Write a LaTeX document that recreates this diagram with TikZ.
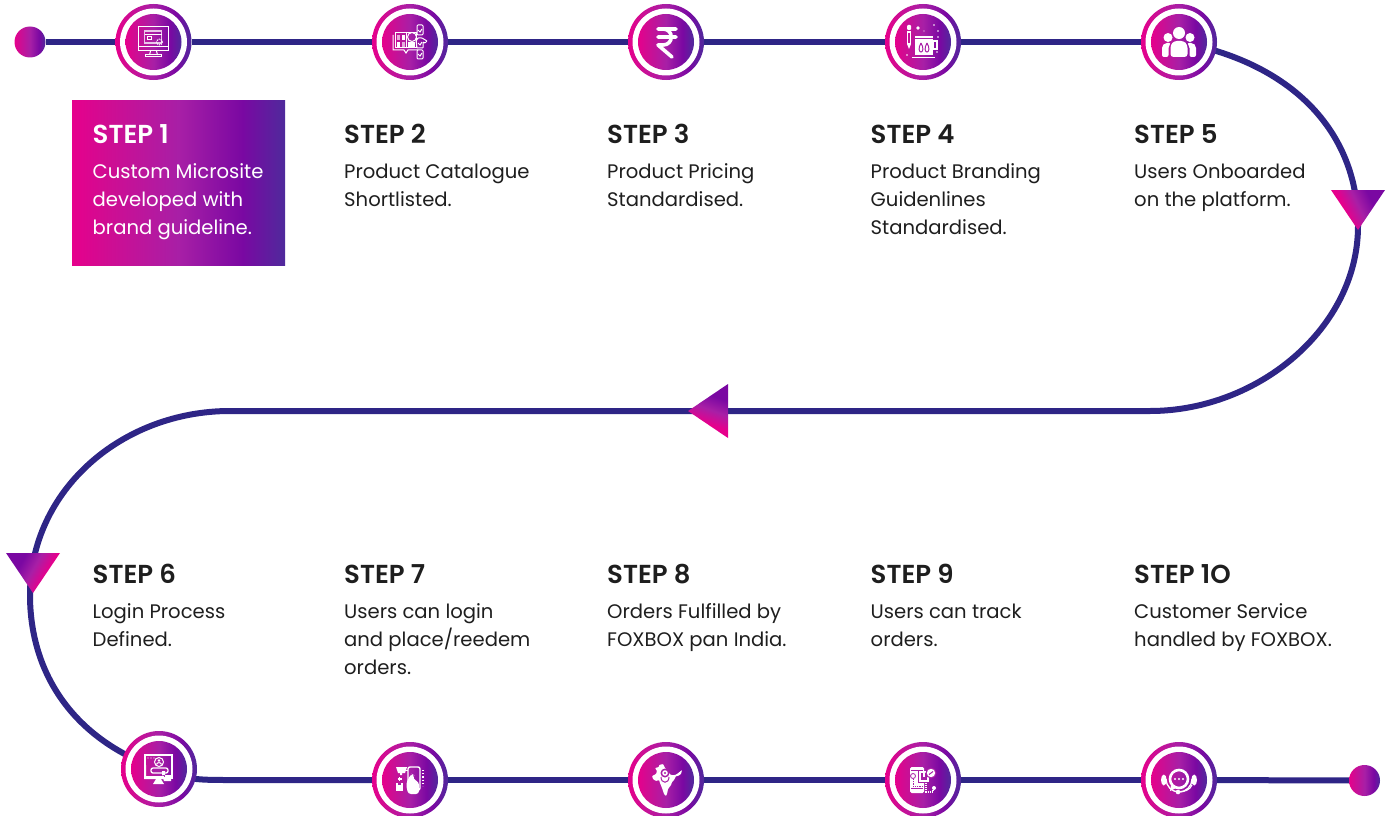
\documentclass[tikz,border=0pt]{standalone}
\usepackage{fontspec}
\setmainfont{Poppins}
\newfontfamily\headf{Poppins SemiBold}
\usetikzlibrary{calc}
\pgfdeclarelayer{bg}
\pgfsetlayers{bg,main}
\definecolor{linecol}{HTML}{2E2586}
\definecolor{gpink}{HTML}{E6008C}
\definecolor{gp2}{HTML}{D00C92}
\definecolor{gmid}{HTML}{A81FA6}
\definecolor{gpur}{HTML}{7A08A2}
\definecolor{gend}{HTML}{4F2A9C}
\definecolor{ink}{HTML}{1E1E1E}
\pgfdeclarehorizontalshading{stepgrad}{100bp}{
 color(0bp)=(gpink); color(25bp)=(gpink); color(33bp)=(gp2); color(50bp)=(gmid);
 color(65bp)=(gpur); color(75bp)=(gend); color(100bp)=(gend)}
\pgfdeclarehorizontalshading{trigrad}{100bp}{
 color(0bp)=(gpink); color(38bp)=(gpink); color(52bp)=(gmid);
 color(66bp)=(gpur); color(100bp)=(gpur)}
\tikzset{
 x=1pt,y=-1pt,
 conn/.style={draw=linecol,line width=6pt},
 ringnode/.style={circle,minimum size=76pt,inner sep=0pt,shading=stepgrad},
 dotnode/.style={circle,minimum size=31pt,inner sep=0pt,shading=stepgrad},
 ttl/.style={anchor=base west,inner sep=0pt,font=\fontsize{26}{28}\headf\selectfont,text=ink},
 txt/.style={anchor=base west,inner sep=0pt,font=\fontsize{19.6}{28}\selectfont,text=ink,align=left},
 ic/.style={draw=white,line width=1pt,fill=none},
}
\newcommand{\ringat}[2]{%
 \node[ringnode] (#1) at (#2) {};
 \fill[white] (#2) circle[radius=33.5];
 \shade[shading=stepgrad] (#2) circle[radius=28];
}
\begin{document}
\begin{tikzpicture}
\useasboundingbox (0,0) rectangle (1392,816);
% rings
\node[dotnode] (start) at (30,42) {};
\ringat{s1}{153.5,42}
\ringat{s2}{410,42}
\ringat{s3}{666,42}
\ringat{s4}{923,42}
\ringat{s5}{1179,42}
\ringat{s6}{159,769}
\ringat{s7}{410,780}
\ringat{s8}{666,780}
\ringat{s9}{923,780}
\ringat{s10}{1179,780}
\node[dotnode] (finish) at (1364.5,780.5) {};
% triangles
\shade[shading=trigrad,shading angle=25] (1331,190) -- (1385,190) -- (1358,230) -- cycle;
\coordinate (t1) at (1358,226);
\shade[shading=trigrad,shading angle=70] (728,384) -- (728,438) -- (688,411) -- cycle;
\coordinate (t2) at (708,411);
\shade[shading=trigrad,shading angle=150] (6,553) -- (60,553) -- (33,593) -- cycle;
\coordinate (t3) at (30,595);
\begin{pgfonlayer}{bg}
\draw[conn] (start) -- (s1);
\draw[conn] (s1) -- (s2);
\draw[conn] (s2) -- (s3);
\draw[conn] (s3) -- (s4);
\draw[conn] (s4) -- (s5);
\draw[conn] (s5.center) .. controls (1290,62) and (1358,130) .. (t1);
\draw[conn] (t1) .. controls (1358,328) and (1258,411) .. (1150,411) -- (t2);
\draw[conn] (t2) -- (230,411) .. controls (122,411) and (30,490) .. (t3);
\draw[conn] (t3) .. controls (30,675) and (75,740) .. (s6.center);
\draw[conn] (s6.center) .. controls (185,780) and (200,780) .. (230,780) -- (s7);
\draw[conn] (s7) -- (s8);
\draw[conn] (s8) -- (s9);
\draw[conn] (s9) -- (s10);
\draw[conn] (s10) -- (finish);
\end{pgfonlayer}
% step 1 box
\shade[shading=stepgrad] (72,100) rectangle (285,265);
% texts
\node[ttl,text=white] (h1) at (92.5,143) {STEP 1};
\node[txt,text=white] (b1) at (92.5,234.5) {Custom Microsite\\developed with\\brand guideline.};
\node[ttl] (h2) at (344,143) {STEP 2};
\node[txt] (b2) at (344,206.5) {Product Catalogue\\Shortlisted.};
\node[ttl] (h3) at (607,143) {STEP 3};
\node[txt] (b3) at (607,206.5) {Product Pricing\\Standardised.};
\node[ttl] (h4) at (870.5,143) {STEP 4};
\node[txt] (b4) at (870.5,234.5) {Product Branding\\Guidenlines\\Standardised.};
\node[ttl] (h5) at (1134,143) {STEP 5};
\node[txt] (b5) at (1134,206.5) {Users Onboarded\\on the platform.};
\node[ttl] (h6) at (92.5,583) {STEP 6};
\node[txt] (b6) at (92.5,646.5) {Login Process\\Defined.};
\node[ttl] (h7) at (344,583) {STEP 7};
\node[txt] (b7) at (344,674.5) {Users can login\\and place/reedem\\orders.};
\node[ttl] (h8) at (607,583) {STEP 8};
\node[txt] (b8) at (607,646.5) {Orders Fulfilled by\\FOXBOX pan India.};
\node[ttl] (h9) at (870.5,583) {STEP 9};
\node[txt] (b9) at (870.5,646.5) {Users can track\\orders.};
\node[ttl] (h10) at (1134,583) {STEP 1O};
\node[txt] (b10) at (1134,646.5) {Customer Service\\handled by FOXBOX.};
% icon 1: monitor
\begin{scope}[shift={(153.5,42)}]
 \draw[ic] (-15,-15) rectangle (15,9);
 \draw[ic] (-15,5) -- (15,5);
 \draw[ic,line width=1.4pt,draw=white!75!gmid] (-9,-11) rectangle (8,1);
 \draw[ic] (-9,-7) -- (8,-7);
 \draw[ic] (-6,-5) rectangle (-2,-2);
 \draw[ic,densely dotted,line width=1.2pt] (6,0) circle[radius=2.8];
 \draw[ic] (-3,9) -- (-4,13) (3,9) -- (4,13);
 \draw[ic] (-8,13) rectangle (8,15);
\end{scope}
% icon 2: catalogue
\begin{scope}[shift={(410,42)}]
 \draw[ic] (-15,-9) rectangle (-4,6);
 \draw[ic] (-4,-9) rectangle (6,6);
 \draw[ic] (-17,-7) -- (-17,8) -- (-6,8) -- (-4,11) -- (-2,8) -- (8,8);
 \fill[white,opacity=.65] (-13,-7) rectangle (-10,-2);
 \fill[white] (-8,-7) rectangle (-5,-2);
 \fill[white] (-13,0) rectangle (-10,5);
 \fill[white,opacity=.65] (-8,0) rectangle (-5,5);
 \draw[ic] (2,-5) circle[radius=4.5];
 \fill[white] (-2,0) rectangle (5,5);
 \draw[ic,rounded corners=1pt] (7,-17) rectangle (13,-7);
 \draw[ic] (8,-12) -- (10,-10) -- (12,-13);
 \draw[ic,rounded corners=.5pt] (6,-1) -- (8,-4) -- (12,-4) -- (17,-1) -- (15,1) -- (13,0) -- (13,6) -- (7,6) -- cycle;
 \draw[ic] (8,1) -- (10,3) -- (12,0);
 \draw[ic,rounded corners=1pt] (7,8) rectangle (13,17);
 \draw[ic] (8,12) -- (10,14) -- (12,11);
\end{scope}
% icon 3: rupee
\begin{scope}[shift={(666,42)}]
 \draw[white,line width=3.6pt,line cap=round,line join=round]
  (-8,-13) -- (10,-13) (-8,-5) -- (10,-5)
  (-8,-13) -- (-3,-13) .. controls (8,-13) and (8,3) .. (-3,3) -- (-8,3) -- (6,15);
\end{scope}
% icon 4: mug and pencil
\begin{scope}[shift={(923,42)}]
 \fill[white,rounded corners=1pt] (-16,-17) rectangle (-12,-12);
 \fill[white] (-16,-11) rectangle (-12,-9);
 \draw[white,line width=1pt] (-15.5,-9) rectangle (-12.5,2);
 \fill[white] (-16,2) -- (-12,2) -- (-14,7) -- cycle;
 \fill[white] (-8,-6) rectangle (10,13);
 \draw[white,line width=1.6pt] (10,-1) rectangle (14,7);
 \fill[white] (-11,14.7) rectangle (12,16);
 \fill[gmid] (-8,-3.5) rectangle (10,-2.8);
 \draw[gmid,line width=1pt] (-2,1) .. controls (-5,6) and (-4,10) .. (-2,10) .. controls (0,10) and (1,6) .. (-2,1);
 \draw[gmid,line width=1pt] (4,1) .. controls (1,6) and (2,10) .. (4,10) .. controls (6,10) and (7,6) .. (4,1);
 \fill[white] (-5,-14) circle[radius=1.8];
 \fill[white] (11,-17) circle[radius=.9];
 \fill[white] (1,-11) circle[radius=.7];
 \fill[white] (15,-11) circle[radius=.8];
 \fill[white] (15,-5) circle[radius=.9];
 \fill[white] (14,10) circle[radius=.8];
 \fill[white] (-16,13) circle[radius=.8];
\end{scope}
% icon 5: users
\begin{scope}[shift={(1179,42)}]
 \fill[white] (0,-9) circle[radius=6];
 \fill[white] (-11,-4.5) circle[radius=4.5];
 \fill[white] (11,-4.5) circle[radius=4.5];
 \fill[white,rounded corners=3pt] (-8.5,15) -- (-8.5,3) -- (-5,-1) -- (5,-1) -- (8.5,3) -- (8.5,15) -- cycle;
 \fill[white,rounded corners=2pt] (-17,15) -- (-17,4) -- (-14,1) -- (-8,1) -- (-10.5,4) -- (-10.5,15) -- cycle;
 \fill[white,rounded corners=2pt] (17,15) -- (17,4) -- (14,1) -- (8,1) -- (10.5,4) -- (10.5,15) -- cycle;
\end{scope}
% icon 6: login
\begin{scope}[shift={(159,769)}]
 \draw[ic,line width=1.2pt] (-14,-14) rectangle (13,9);
 \fill[white] (-15,-4) rectangle (-13,10) (-15,7) rectangle (5,10);
 \draw[ic] (0,-7) circle[radius=4.5];
 \fill[white] (0,-8.5) circle[radius=1.4];
 \draw[white,line width=1pt] (-2.5,-4.5) .. controls (-2,-7) and (2,-7) .. (2.5,-4.5);
 \draw[ic,rounded corners=2pt,line width=1.3pt,fill=gmid] (-8,-1) rectangle (9,4);
 \fill[white] (3,2) rectangle (6,8) (3,6) -- (12,6) -- (12,12) -- (5,12) -- cycle;
 \fill[white] (-6,15) -- (5,15) -- (2,10) -- (-3,10) -- cycle;
 \fill[white] (-11,-11) circle[radius=.6] (-8,-11) circle[radius=.6] (-5,-11) circle[radius=.6];
\end{scope}
% icon 7: hand and phone
\begin{scope}[shift={(410,780)}]
 \fill[white] (-14,-13) -- (-3,-13) -- (-5,-7) -- (-8,-7) -- (-8,-5) -- (-10,-5) -- (-10,-7) -- (-12,-7) -- cycle;
 \fill[white] (-14,3) rectangle (-7,11);
 \fill[gmid] (-12,3) rectangle (-9,5);
 \draw[white,line width=1.2pt] (-10.5,-3) -- (-10.5,1) (-12.5,-1) -- (-8.5,-1);
 \draw[white,line width=1.4pt,rounded corners=2pt] (-2,-13) -- (10,-13) -- (10,10) -- (-2,10) -- cycle;
 \draw[white,line width=1pt] (-6,-10) -- (-2,-10);
 \fill[white,rounded corners=3pt] (-4,4) -- (-1,-3) -- (2,-6) -- (4,-5) -- (3,-1) -- (9,2) -- (9,14) -- (-2,14) -- cycle;
 \fill[gmid] (3,-9) circle[radius=1.2];
 \draw[white,line width=1.2pt,dotted] (13,-10) -- (13,6);
\end{scope}
% icon 8: India
\begin{scope}[shift={(666,780)}]
 \fill[white,rounded corners=.7pt] (-7,-15) -- (-3,-16) -- (-1,-12) -- (1,-10) -- (3,-7) -- (5,-5) -- (9,-5) -- (11,-6) -- (16,-10) -- (15,-6) -- (12,-4) -- (10,-4) -- (8,0) -- (6,2) -- (5,5) -- (2,9) -- (1,14) -- (0,16) -- (-2,14) -- (-4,8) -- (-6,3) -- (-7,0) -- (-10,1) -- (-13,-1) -- (-14,-4) -- (-10,-6) -- (-9,-9) -- (-11,-12) -- (-7,-13) -- cycle;
 \fill[gmid] (-1,-7) circle[radius=4.5];
 \fill[white] (-1,-7) circle[radius=2.8];
 \fill[gmid] (-1,-7) circle[radius=1.2];
 \draw[gmid,line width=1pt] (-5,-3) .. controls (-5,4) and (3,4) .. (3,-3);
\end{scope}
% icon 9: phone tracking
\begin{scope}[shift={(923,780)}]
 \fill[white,rounded corners=1.5pt] (-13,-13) rectangle (1,13);
 \draw[gmid,line width=.8pt] (-12,-10) -- (0,-10) (-12,8) -- (0,8);
 \draw[gmid,line width=.8pt] (-10,-4) circle[radius=2.5];
 \draw[gmid,line width=.8pt,densely dotted] (-10,-1) -- (-10,6) -- (1,6);
 \fill[gmid] (-5,-9) rectangle (3,3);
 \draw[white,line width=1.2pt] (-3,-8) rectangle (5,1);
 \fill[white] (0,-8) rectangle (2,-3);
 \fill[gmid] (8,-7) circle[radius=5.5];
 \fill[white] (8,-7) circle[radius=4.2];
 \draw[gmid,line width=1pt] (6,-5.5) -- (10,-8.5);
 \draw[white,line width=1.1pt,densely dotted] (3,3) -- (3,12) -- (10,12) -- (10,10);
 \fill[white] (11,8) circle[radius=2];
\end{scope}
% icon 10: headset chat
\begin{scope}[shift={(1179,780)}]
 \draw[white,line width=1.3pt] (-13,-1) arc[start angle=180,end angle=0,radius=13];
 \draw[white,line width=2.6pt] (0,-1) circle[radius=9];
 \fill[white] (-15.2,0) ellipse[x radius=2.8,y radius=5.5];
 \fill[white] (15.2,0) ellipse[x radius=2.8,y radius=5.5];
 \fill[white] (-8,5) -- (-9,11) -- (-3,8) -- cycle;
 \fill[white] (-1,12) circle[radius=2.3];
 \draw[white,line width=1.2pt] (-1,12) .. controls (5,12) and (11,10) .. (13,5);
 \fill[white] (-4,-1) circle[radius=1.1] (0,-1) circle[radius=1.1] (4,-1) circle[radius=1.1];
\end{scope}
\end{tikzpicture}
\end{document}
